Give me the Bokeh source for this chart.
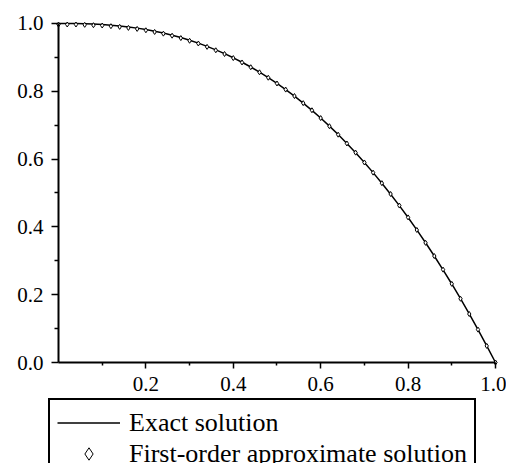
from bokeh.plotting import figure
from bokeh.models import FixedTicker, Legend, LegendItem, LinearAxis
from bokeh.embed import file_html
from bokeh.resources import INLINE

# ---- data ----
x_values = [0.00, 0.02, 0.04, 0.06, 0.08, 0.10, 0.12, 0.14, 0.16, 0.18,
            0.20, 0.22, 0.24, 0.26, 0.28, 0.30, 0.32, 0.34, 0.36, 0.38,
            0.40, 0.42, 0.44, 0.46, 0.48, 0.50, 0.52, 0.54, 0.56, 0.58,
            0.60, 0.62, 0.64, 0.66, 0.68, 0.70, 0.72, 0.74, 0.76, 0.78,
            0.80, 0.82, 0.84, 0.86, 0.88, 0.90, 0.92, 0.94, 0.96, 0.98,
            1.00]
exact_y = [1.0000, 1.0000, 0.9997, 0.9991, 0.9982, 0.9968, 0.9950, 0.9927, 0.9898, 0.9863,
           0.9821, 0.9773, 0.9718, 0.9655, 0.9585, 0.9507, 0.9421, 0.9326, 0.9222, 0.9110,
           0.8988, 0.8857, 0.8716, 0.8565, 0.8404, 0.8232, 0.8050, 0.7857, 0.7653, 0.7438,
           0.7211, 0.6973, 0.6723, 0.6461, 0.6187, 0.5900, 0.5601, 0.5289, 0.4965, 0.4627,
           0.4276, 0.3911, 0.3533, 0.3141, 0.2735, 0.2316, 0.1881, 0.1433, 0.0970, 0.0493,
           0.0000]
approx_y = [0.997, 0.997, 0.997, 0.996, 0.995, 0.994, 0.992, 0.990, 0.987, 0.984,
            0.980, 0.975, 0.970, 0.964, 0.957, 0.949, 0.941, 0.931, 0.921, 0.910,
            0.898, 0.885, 0.871, 0.856, 0.840, 0.823, 0.805, 0.786, 0.765, 0.744,
            0.721, 0.697, 0.672, 0.646, 0.619, 0.590, 0.560, 0.529, 0.497, 0.463,
            0.428, 0.391, 0.353, 0.314, 0.274, 0.232, 0.188, 0.143, 0.097, 0.049,
            0.000]

x_ticks = [0.2, 0.4, 0.6, 0.8, 1.0]
x_tick_labels = ["0.2", "0.4", "0.6", "0.8", "1.0"]
x_minor_ticks = [0.1, 0.3, 0.5, 0.7, 0.9]
y_ticks = [0.0, 0.2, 0.4, 0.6, 0.8, 1.0]
y_tick_labels = ["0.0", "0.2", "0.4", "0.6", "0.8", "1.0"]
y_minor_ticks = [0.1, 0.3, 0.5, 0.7, 0.9]
legend_labels = ["Exact solution", "First-order approximate solution"]

# ---- figure: the frame fills the canvas, axes are pinned at x=0 / y=0 ----
p = figure(width=506, height=463,
           x_range=(-0.1327, 1.0252), y_range=(-0.2979, 1.0678),
           x_axis_location=None, y_axis_location=None,
           output_backend="svg", toolbar_location=None,
           min_border=0, min_border_left=0, min_border_right=0,
           min_border_top=0, min_border_bottom=0)
p.outline_line_color = None
p.grid.visible = False
p.background_fill_color = "white"
p.border_fill_color = "white"

FONT = "Liberation Serif"

xa = LinearAxis(fixed_location=0,
                ticker=FixedTicker(ticks=x_ticks, minor_ticks=x_minor_ticks))
xa.major_label_overrides = {t: l for t, l in zip(x_ticks, x_tick_labels)}
xa.bounds = (0, 1)
xa.major_label_standoff = 8

ya = LinearAxis(fixed_location=0,
                ticker=FixedTicker(ticks=y_ticks, minor_ticks=y_minor_ticks))
ya.major_label_overrides = {t: l for t, l in zip(y_ticks, y_tick_labels)}
ya.bounds = (0, 1)
ya.major_label_standoff = 8

for ax in (xa, ya):
    ax.axis_line_color = "black"
    ax.axis_line_width = 2
    ax.major_tick_line_color = "black"
    ax.major_tick_line_width = 1.5
    ax.minor_tick_line_color = "black"
    ax.minor_tick_line_width = 1.5
    ax.major_tick_in = 0
    ax.minor_tick_in = 0
    ax.major_label_text_font = FONT
    ax.major_label_text_font_size = "21px"
    ax.major_label_text_color = "black"
xa.major_tick_out = 6
xa.minor_tick_out = 3
ya.major_tick_out = 7
ya.minor_tick_out = 4
p.add_layout(xa, "below")
p.add_layout(ya, "left")

r_line = p.line(x_values, exact_y, line_color="black", line_width=1.5)
r_pts = p.scatter(x_values, approx_y, marker="diamond", size=5,
                  fill_color="white", line_color="black", line_width=1)

legend = Legend(
    items=[LegendItem(label=legend_labels[0], renderers=[r_line]),
           LegendItem(label=legend_labels[1], renderers=[r_pts])],
    location=(48, -15),
    label_text_font=FONT, label_text_font_size="26px", label_text_color="black",
    glyph_width=63, glyph_height=31, label_height=31, label_standoff=9,
    padding=7, spacing=0, margin=0,
    border_line_color="black", border_line_width=2, border_line_alpha=1.0,
    background_fill_color="white", background_fill_alpha=1,
)
p.add_layout(legend)

open("out.html", "w").write(file_html(p, INLINE))
